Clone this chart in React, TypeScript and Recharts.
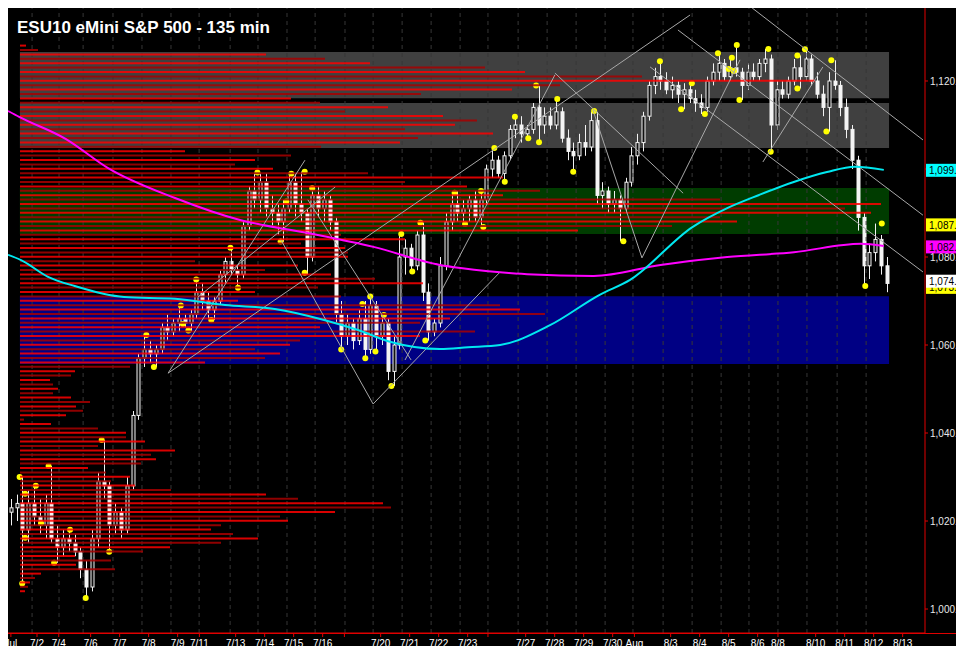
import React from 'react';
import { ComposedChart, BarChart, Bar, Line, Scatter, XAxis, YAxis, ReferenceArea, ReferenceLine, Cell } from 'recharts';

const W = 948;
const H = 638;
const FONT = '"Liberation Sans", Arial, Helvetica, sans-serif';
const AXIS_RED = '#e00000';

const PRICE_MIN = 994.55;
const PRICE_MAX = 1136.59;
const SLOT_MAX = 316.2; // 135-min bar slots across the plot

const priceTicks = [1000, 1020, 1040, 1060, 1080, 1100, 1120];

const dateTicks = [1, 10, 17.5, 28.5, 38.5, 48.5, 58.5, 66, 78.5, 88.5, 98.5, 108.5, 116, 128.5, 138.5, 148.5, 158.5, 165.5, 178.5, 188.5, 198.5, 208.5, 216, 228.5, 238.5, 248.5, 258.5, 265.5, 278.5, 288.5, 298.5, 308.5];
const dateLabels = ['Jul', '7/2', '7/4', '7/6', '7/7', '7/8', '7/9', '7/11', '7/13', '7/14', '7/15', '7/16', '', '7/20', '7/21', '7/22', '7/23', '', '7/27', '7/28', '7/29', '7/30', 'Aug', '8/3', '8/4', '8/5', '8/6', '8/8', '8/10', '8/11', '8/12', '8/13'];

// session breaks (dashed verticals)
const sessionBreaks = [8.3, 17.6, 25.9, 36.2, 46.2, 56.2, 65.9, 76.6, 86.2, 96.2, 105.9, 116.2, 125.9, 135.9, 145.9, 155.9, 165.5, 175.9, 185.9, 195.9, 205.9, 215.5, 225.9, 235.9, 245.9, 255.5, 265.5, 275.5, 285.9, 295.9];

// one candle every other slot: [open, high, low, close]
const candles: [number, number, number, number][] = [
  [1022, 1025, 1019, 1023], [1023, 1026, 1020, 1024], [1024, 1030, 1006, 1018], [1018, 1027, 1015, 1024],
  [1024, 1028, 1019, 1021], [1021, 1025, 1017, 1019], [1019, 1026, 1016, 1024], [1024, 1032.5, 1015, 1016],
  [1016, 1019, 1010.5, 1014], [1014, 1018, 1012, 1016], [1016, 1018.5, 1013, 1015], [1015, 1017, 1012, 1013],
  [1013, 1014, 1007, 1009], [1009, 1011, 1002.5, 1005], [1005, 1018, 1004, 1016], [1016, 1031, 1014, 1029],
  [1029, 1038.4, 1025, 1028], [1028, 1029, 1013, 1019], [1019, 1024, 1017, 1022], [1022, 1023, 1016, 1018],
  [1018, 1030, 1017, 1028], [1028, 1045, 1027, 1044], [1044, 1058, 1043, 1057], [1057, 1062.3, 1055, 1059],
  [1059, 1061, 1056, 1058], [1058, 1060, 1055, 1059], [1059, 1065, 1058, 1064], [1064, 1067, 1061, 1063],
  [1063, 1066, 1062, 1065], [1065, 1069, 1063, 1066], [1066, 1067, 1064, 1065], [1065, 1068, 1063, 1067],
  [1067, 1075, 1066, 1072], [1072, 1074, 1068, 1070], [1070, 1072, 1066, 1068], [1068, 1071, 1065.7, 1070],
  [1070, 1077, 1069, 1076], [1076, 1080, 1074, 1079], [1079, 1082, 1076, 1077], [1077, 1078, 1073, 1076],
  [1076, 1088, 1075, 1087], [1087, 1096, 1086, 1095], [1095, 1099, 1091, 1093], [1093, 1099, 1090, 1097],
  [1097, 1099, 1089, 1091], [1091, 1094, 1087, 1090], [1090, 1092, 1085, 1088], [1088, 1093, 1083.5, 1091],
  [1091, 1099, 1090, 1097], [1097, 1099, 1089, 1092], [1092, 1099.4, 1088, 1090], [1090, 1091, 1076, 1080],
  [1080, 1096, 1079, 1094], [1094, 1096, 1089, 1091], [1091, 1095, 1088, 1093], [1093, 1094, 1086, 1088],
  [1088, 1089, 1065, 1067], [1067, 1070, 1059, 1062], [1062, 1067, 1060, 1065], [1065, 1066, 1059, 1061],
  [1061, 1068, 1060, 1066], [1066, 1070, 1057, 1059], [1059, 1071, 1058, 1069], [1069, 1070, 1058.5, 1062],
  [1062, 1067, 1060, 1065], [1065, 1066, 1052, 1054], [1054, 1062, 1050.7, 1060], [1060, 1085.2, 1059, 1080],
  [1080, 1084, 1076, 1082], [1082, 1083, 1076.7, 1078], [1078, 1086, 1077, 1085], [1085, 1087.8, 1070, 1072],
  [1072, 1074, 1061, 1063], [1063, 1066, 1062, 1065], [1065, 1080, 1064, 1078], [1078, 1090, 1077, 1088],
  [1088, 1094.6, 1086, 1092], [1092, 1095, 1088, 1090], [1090, 1093, 1087, 1091], [1091, 1094, 1088, 1093],
  [1093, 1095, 1088, 1089], [1089, 1095, 1087, 1093], [1093, 1101, 1092, 1100], [1100, 1104.8, 1098, 1102],
  [1102, 1103, 1098, 1099], [1099, 1104, 1097, 1103], [1103, 1110, 1102, 1109], [1109, 1112, 1107, 1110],
  [1110, 1112, 1106, 1108], [1108, 1110, 1107, 1109], [1109, 1115, 1108, 1114], [1114, 1119, 1106, 1110],
  [1110, 1114, 1108, 1112], [1112, 1114, 1109, 1110], [1110, 1116, 1109, 1113], [1113, 1114, 1106, 1107],
  [1107, 1109, 1102, 1104], [1104, 1106, 1099.4, 1103], [1103, 1108, 1102, 1106], [1106, 1110, 1103, 1105],
  [1105, 1113, 1104, 1111], [1111, 1113, 1092, 1094], [1094, 1097, 1091, 1095], [1095, 1096, 1090, 1092],
  [1092, 1095, 1090, 1093], [1093, 1094, 1083.6, 1091], [1091, 1098, 1090, 1097], [1097, 1105, 1096, 1103],
  [1103, 1108, 1101, 1106], [1106, 1113, 1104, 1112], [1112, 1120, 1111, 1119], [1119, 1123, 1117, 1121],
  [1121, 1124.5, 1118, 1120], [1120, 1122, 1117, 1118], [1118, 1121, 1116, 1119], [1119, 1120, 1115, 1117],
  [1117, 1119.5, 1113.6, 1118], [1118, 1119.5, 1115, 1116], [1116, 1118, 1113, 1115], [1115, 1117, 1112.5, 1114],
  [1114, 1121, 1113, 1120], [1120, 1124, 1119, 1122], [1122, 1126.3, 1120, 1124], [1124, 1125, 1120, 1121],
  [1121, 1125.3, 1120, 1123], [1123, 1128.2, 1121, 1122], [1122, 1123, 1115.7, 1119], [1119, 1124, 1118, 1122],
  [1122, 1124, 1120, 1121], [1121, 1125, 1120, 1124], [1124, 1127.3, 1122, 1125], [1125, 1126, 1103.9, 1110],
  [1110, 1120, 1109, 1118], [1118, 1120, 1116, 1117], [1117, 1121, 1116, 1120], [1120, 1125, 1119, 1123],
  [1123, 1125.8, 1118.3, 1121], [1121, 1127.2, 1120, 1125], [1125, 1126, 1119, 1120], [1120, 1122, 1116, 1117],
  [1117, 1119, 1112, 1114], [1114, 1122, 1108.5, 1120], [1120, 1124.7, 1118, 1119], [1119, 1120, 1112, 1114],
  [1114, 1116, 1107, 1109], [1109, 1110, 1100, 1102], [1102, 1103, 1086, 1089], [1089, 1090, 1073.4, 1078],
  [1078, 1083, 1075, 1081], [1081, 1087.6, 1079, 1084], [1084, 1085, 1076, 1078], [1078, 1080, 1072, 1074],
];

// swing highs / lows: [slot, price]
const swingDots: [number, number][] = [
  [4, 1030], [5.9, 1026.2], [9.6, 1028], [4.9, 1005.8], [5.9, 1016.2], [11.4, 1019.5], [14, 1032.5], [15.9, 1010.5],
  [21.4, 1018], [32.3, 1038.4], [26.8, 1002.5], [34.9, 1013], [47.7, 1062.3], [50.3, 1055], [59.6, 1069], [60.3, 1064.8],
  [62.2, 1063.3], [64.9, 1074.9], [70.1, 1065.7], [76.7, 1082.1], [79.3, 1073], [86, 1099.2], [97.7, 1098.9], [102.3, 1099.4],
  [104.9, 1095.6], [96, 1092.6], [94, 1083.5], [102.3, 1076.4], [114.9, 1059], [122.2, 1069.3], [124.9, 1071], [123.2, 1057],
  [126.7, 1058.5], [129.6, 1066.8], [132.2, 1050.7], [135.6, 1085.2], [139.4, 1076.7], [142.2, 1087.8], [143.9, 1061],
  [154, 1094.6], [157.6, 1087.5], [163.1, 1095], [163.9, 1086.8], [167.7, 1104.8], [171.3, 1097.1], [174.8, 1111.9],
  [179.4, 1107], [182.1, 1119], [183.1, 1106.1], [189.4, 1115.9], [194.9, 1099.4], [202.1, 1113.2], [212.2, 1083.6],
  [224.8, 1124.5], [232.1, 1113.6], [235.8, 1119.5], [240.3, 1112.5], [244.8, 1126.3], [248.5, 1122.7], [249.6, 1125.3],
  [250.3, 1122.3], [251.3, 1128.2], [252.2, 1115.7], [262.2, 1127.3], [263, 1103.9], [272.2, 1125.8], [272.2, 1118.3],
  [274.8, 1127.2], [282.2, 1108.5], [283.9, 1124.7], [301.3, 1087.6], [295.6, 1073.4],
];

// volume at price: [price, volume]
const profile: [number, number][] = [
  [1128, 6], [1127, 18], [1126, 246], [1125, 305], [1124, 350], [1123, 465], [1122, 505], [1121, 622], [1120, 795],
  [1119, 540], [1118, 492], [1117, 401], [1116, 271], [1115, 300], [1114, 368], [1113, 325], [1112, 423], [1111, 457],
  [1110, 435], [1109, 385], [1108, 473], [1107, 398], [1106, 380], [1105, 301], [1104, 165], [1103, 271], [1102, 235],
  [1101, 215], [1100, 253], [1099, 348], [1098, 483], [1097, 385], [1096, 447], [1095, 520], [1094, 483], [1093, 700],
  [1092, 861], [1091, 825], [1090, 851], [1089, 700], [1088, 717], [1087, 652], [1086, 558], [1085, 321], [1084, 385],
  [1083, 281], [1082, 325], [1081, 328], [1080, 328], [1079, 175], [1078, 278], [1077, 245], [1076, 311], [1075, 355],
  [1074, 403], [1073, 298], [1072, 235], [1071, 321], [1070, 218], [1069, 480], [1068, 500], [1067, 525], [1066, 430],
  [1065, 400], [1064, 300], [1063, 455], [1062, 400], [1061, 280], [1060, 270], [1059, 235], [1058, 260], [1057, 245],
  [1056, 185], [1055, 110], [1054, 55], [1053, 51], [1052, 30], [1051, 33], [1050, 38], [1049, 33], [1048, 51],
  [1047, 70], [1046, 56], [1045, 63], [1044, 46], [1043, 4], [1042, 31], [1041, 78], [1040, 106], [1039, 106],
  [1038, 125], [1037, 78], [1036, 155], [1035, 131], [1034, 136], [1033, 121], [1032, 68], [1031, 86], [1030, 110],
  [1029, 91], [1028, 115], [1027, 151], [1026, 246], [1025, 278], [1024, 363], [1023, 371], [1022, 315], [1021, 260],
  [1020, 268], [1019, 201], [1018, 191], [1017, 213], [1016, 238], [1015, 201], [1014, 150], [1013, 123], [1012, 55],
  [1011, 91], [1010, 56], [1009, 95], [1008, 21], [1007, 15], [1006, 10], [1005, 8], [1004, 5],
];
const PROFILE_MAX = 905;

// moving averages: [slot, price]
const magentaMA: [number, number][] = [
  [0, 1113.2], [4, 1111.8], [20, 1106.8], [34.5, 1100.2], [57.6, 1093.4], [80, 1088.4], [103, 1085.5], [126, 1082.3],
  [149, 1078.2], [156, 1077.5], [179, 1076.1], [202, 1075.7], [225, 1078.2], [248, 1080], [271, 1081.1], [294, 1083], [302, 1082.5],
];
const cyanMA: [number, number][] = [
  [0, 1080.5], [4.5, 1079.3], [13.8, 1075.5], [23, 1073.4], [40, 1070.9], [57.6, 1070.5], [74.8, 1069.1], [92, 1068.2],
  [109, 1065.7], [120.7, 1063.4], [132, 1060.7], [149, 1059.1], [158.6, 1059.5], [169.7, 1060], [186.9, 1064.5],
  [204, 1071.4], [214.5, 1074.8], [236, 1086.8], [248, 1091.1], [259, 1094.1], [270.7, 1097], [282.4, 1099.3],
  [292, 1100.5], [302, 1099.8],
];

// drawn trend lines: [[slot, price], [slot, price]]
const trendLines: [[number, number], [number, number]][] = [
  [[55.2, 1053.6], [235.2, 1135]],
  [[55.2, 1053.6], [102.4, 1102]],
  [[94.1, 1083.9], [125.9, 1046.6]],
  [[125.9, 1046.6], [169.7, 1076.6]],
  [[136.9, 1056.6], [188.6, 1121.4]],
  [[188.6, 1121.8], [232.8, 1094.5]],
  [[201.7, 1113.4], [218.6, 1079.8]],
  [[218.6, 1079.8], [252.4, 1124.8]],
  [[256.6, 1136.6], [315.5, 1106.6]],
  [[231, 1131.6], [315.5, 1089.5]],
  [[221.4, 1123.2], [315.5, 1076.6]],
  [[260.3, 1101.6], [281, 1123.2]],
  [[103.4, 1093], [139, 1056.6]],
  [[65.5, 1070.9], [112.8, 1095.9]],
];

// support / resistance zones: [top, bottom]
const zones: [number, number][] = [
  [1126.6, 1116.1],
  [1115.0, 1104.8],
  [1095.7, 1085.2],
  [1071.1, 1055.7],
];
const zoneStart = 4.1;
const zoneEnd = 303.8;
const zoneColors = ['#404040', '#404040', '#003c00', '#000084'];

// last-value markers on the price scale
const lastValues: [number, string][] = [
  [1099.7, '1,099.75'],
  [1087.3, '1,087.50'],
  [1082.3, '1,082.34'],
  [1073.1, '1,073.25'],
  [1074.5, '1,074.50'],
];
const lastColors = ['#00ffff', '#ffff00', '#ff00ff', '#ffff00', '#ffffff'];

const candleData = candles.map(([o, h, l, c], i) => ({ u: 1 + 2 * i, o, h, l, c }));
const dotData = swingDots.map(([u, p]) => ({ u, p }));
const profileData = profile.map(([p, v]) => ({ p, v }));
const magentaData = magentaMA.map(([u, p]) => ({ u, p }));
const cyanData = cyanMA.map(([u, p]) => ({ u, p }));

const fmtPrice = (v: number) => v.toLocaleString('en-US', { minimumFractionDigits: 2, maximumFractionDigits: 2 });

const Candle = (props: any) => {
  const { x, y, width, height } = props;
  const d = props.payload || props;
  if (x == null || y == null || height == null) return null;
  const top = Math.min(y, y + height);
  const h = Math.abs(height);
  const span = d.h - d.l || 1;
  const toY = (v: number) => top + ((d.h - v) / span) * h;
  const cx = Math.round(x + width / 2) + 0.5;
  const bt = toY(Math.max(d.o, d.c));
  const bb = toY(Math.min(d.o, d.c));
  const up = d.c >= d.o;
  return (
    <g>
      <line x1={cx} x2={cx} y1={top} y2={top + h} stroke="#f2f2f2" strokeWidth={1} />
      <rect x={cx - 1.5} y={bt} width={3} height={Math.max(bb - bt, 1)} fill={up ? '#111' : '#f4f4f4'} stroke="#f4f4f4" strokeWidth={1} />
    </g>
  );
};

const ValueBox = (props: any) => {
  const { viewBox, text, color } = props;
  if (!viewBox) return null;
  const x = viewBox.x + viewBox.width + 1;
  const y = viewBox.y;
  return (
    <g>
      <rect x={x} y={y - 6.5} width={40} height={13} fill={color} />
      <text x={x + 3} y={y + 4} fontSize={10} fill="#000" fontFamily={FONT}>{text}</text>
    </g>
  );
};

const layer: React.CSSProperties = { position: 'absolute', left: 0, top: 0 };

export default function App() {
  return (
    <div style={{ position: 'fixed', left: 8, top: 8, width: W, height: H, overflow: 'hidden', background: '#000', fontFamily: FONT }}>
      {/* price panel: zones, grid, candles, swing dots, axes */}
      <div style={layer}>
        <ComposedChart width={W} height={H} data={candleData} margin={{ top: 0, right: 0, bottom: 0, left: 0 }}>
          <XAxis
            type="number"
            dataKey="u"
            domain={[0, SLOT_MAX]}
            allowDataOverflow
            ticks={dateTicks}
            interval={0}
            tickFormatter={(v) => dateLabels[dateTicks.indexOf(v)] ?? ''}
            height={13}
            tickSize={4}
            tickMargin={3}
            axisLine={{ stroke: AXIS_RED }}
            tickLine={{ stroke: AXIS_RED }}
            tick={{ fill: '#ffffff', fontSize: 10 }}
          />
          <YAxis
            orientation="right"
            type="number"
            domain={[PRICE_MIN, PRICE_MAX]}
            allowDataOverflow
            ticks={priceTicks}
            interval={0}
            width={31}
            tickSize={3}
            tickMargin={2}
            axisLine={{ stroke: AXIS_RED }}
            tickLine={{ stroke: AXIS_RED }}
            tick={{ fill: '#e8e8e8', fontSize: 10 }}
            tickFormatter={fmtPrice}
          />
          {zones.map(([top, bottom], i) => (
            <ReferenceArea key={`z${i}`} x1={zoneStart} x2={zoneEnd} y1={bottom} y2={top} fill={zoneColors[i]} fillOpacity={1} stroke="none" />
          ))}
          {sessionBreaks.map((u) => (
            <ReferenceLine key={`g${u}`} x={u} stroke="#363636" strokeDasharray="4 4" />
          ))}
          <Bar dataKey={(d: any) => [d.l, d.h]} barSize={4} shape={<Candle />} isAnimationActive={false} />
          <Scatter
            data={dotData}
            dataKey="p"
            isAnimationActive={false}
            shape={(p: any) => <circle cx={p.cx} cy={p.cy} r={3} fill="#ffff00" />}
          />
        </ComposedChart>
      </div>

      {/* volume profile */}
      <div style={layer}>
        <BarChart layout="vertical" width={W} height={H} data={profileData} margin={{ top: 0, right: 31, bottom: 13, left: 12 }} barCategoryGap={0}>
          <XAxis type="number" hide domain={[0, PROFILE_MAX]} allowDataOverflow />
          <YAxis type="number" dataKey="p" hide reversed domain={[PRICE_MIN, PRICE_MAX]} allowDataOverflow />
          <Bar dataKey="v" barSize={2} isAnimationActive={false}>
            {profileData.map((d, i) => (
              <Cell key={d.p} fill={i % 2 ? '#a80000' : '#ff0000'} fillOpacity={0.85} />
            ))}
          </Bar>
        </BarChart>
      </div>

      {/* moving averages, trend lines, last values */}
      <div style={layer}>
        <ComposedChart width={W} height={H} margin={{ top: 0, right: 31, bottom: 13, left: 0 }}>
          <XAxis type="number" dataKey="u" hide domain={[0, SLOT_MAX]} allowDataOverflow />
          <YAxis type="number" hide domain={[PRICE_MIN, PRICE_MAX]} allowDataOverflow />
          {trendLines.map(([a, b], i) => (
            <ReferenceLine
              key={`t${i}`}
              segment={[{ x: a[0], y: a[1] }, { x: b[0], y: b[1] }]}
              stroke="#a8a8a8"
              strokeWidth={1}
              ifOverflow="hidden"
            />
          ))}
          <Line data={magentaData} dataKey="p" type="monotone" stroke="#ff00ff" strokeWidth={2} dot={false} isAnimationActive={false} />
          <Line data={cyanData} dataKey="p" type="monotone" stroke="#00e8f0" strokeWidth={2} dot={false} isAnimationActive={false} />
          {lastValues.map(([p, text], i) => (
            <ReferenceLine key={`l${i}`} y={p} stroke="none" label={<ValueBox text={text} color={lastColors[i]} />} />
          ))}
        </ComposedChart>
      </div>

      <div style={{ position: 'absolute', left: 0, top: 625, width: W, height: 1, background: AXIS_RED }} />
      <div style={{ position: 'absolute', left: 9, top: 10, color: '#fff', fontWeight: 'bold', fontSize: 17, lineHeight: '20px', whiteSpace: 'nowrap' }}>
        ESU10 eMini S&amp;P 500 - 135 min
      </div>
    </div>
  );
}
